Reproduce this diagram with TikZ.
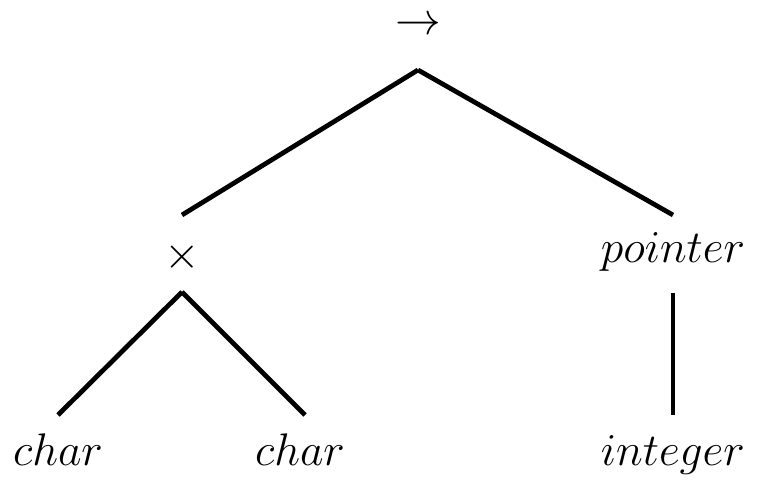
\documentclass[tikz,border=0pt]{standalone}
\usepackage{fix-cm}
\usepackage{amsmath}
\usepackage{tikz}

\begin{document}
\begin{tikzpicture}[x=0.02cm, y=-0.02cm, line width=2.7pt,
    every node/.style={inner sep=0pt},
    font=\fontsize{26}{30}\selectfont]
  \useasboundingbox (0,0) rectangle (769,482);
  \node (arrow) at (418,26) {$\rightarrow$};
  \node (times) at (182,257) {$\times$};
  \node[anchor=base] (pointer) at (673,263) {$pointer$};
  \node[anchor=base] (charA) at (58,466) {$char$};
  \node[anchor=base] (charB) at (300,466) {$char$};
  \node[anchor=base] (integer) at (673,466) {$integer$};
  \draw ([yshift=-0.88cm]arrow.center) -- ([yshift=0.84cm]times.center);
  \draw ([yshift=-0.88cm]arrow.center) -- ([yshift=0.96cm]pointer.base);
  \draw ([yshift=-0.7cm]times.center) -- ([yshift=1.02cm]charA.base);
  \draw ([yshift=-0.7cm]times.center) -- ([xshift=0.1cm,yshift=1.02cm]charB.base);
  \draw ([yshift=-0.6cm]pointer.base) -- ([yshift=1.02cm]integer.base);
\end{tikzpicture}
\end{document}
